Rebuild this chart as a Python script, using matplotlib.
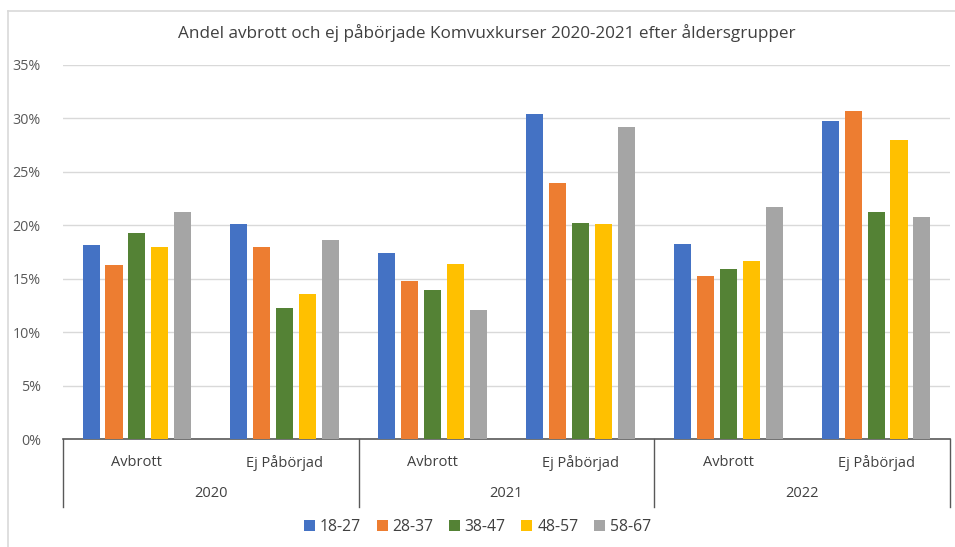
import matplotlib
matplotlib.use("Agg")
import matplotlib.pyplot as plt
from matplotlib.lines import Line2D
from matplotlib.ticker import FuncFormatter

plt.rcParams['font.family'] = ['Open Sans', 'DejaVu Sans']

years = ["2020", "2021", "2022"]
categories = ["Avbrott", "Ej Påbörjad", "Avbrott", "Ej Påbörjad", "Avbrott", "Ej Påbörjad"]
series_names = ["18-27", "28-37", "38-47", "48-57", "58-67"]
values = {
    "18-27": [18.2, 20.1, 17.4, 30.4, 18.3, 29.8],
    "28-37": [16.3, 18.0, 14.8, 24.0, 15.3, 30.7],
    "38-47": [19.3, 12.3, 14.0, 20.2, 15.9, 21.3],
    "48-57": [18.0, 13.6, 16.4, 20.1, 16.7, 28.0],
    "58-67": [21.3, 18.6, 12.1, 29.2, 21.7, 20.8],
}
colors = ["#4472C4", "#ED7D31", "#548235", "#FFC000", "#A5A5A5"]
yticks = [0, 5, 10, 15, 20, 25, 30, 35]

fig = plt.figure(figsize=(9.55, 5.47), dpi=100)
ax = fig.add_axes([63/955, 1-439.3/547, (950-63)/955, (439.3-65)/547])

step = 0.155
width = 0.116
x = list(range(len(categories)))
for i, name in enumerate(series_names):
    xs = [xi + (i-2)*step for xi in x]
    ax.bar(xs, values[name], width=width, color=colors[i], label=name, zorder=3)

ax.set_xlim(-0.5, len(categories)-0.5)
ax.set_ylim(0, 35)
ax.set_yticks(yticks)
ax.yaxis.set_major_formatter(FuncFormatter(lambda v, p: f"{int(v)}%"))
ax.tick_params(axis='y', length=0, labelsize=10.3, labelcolor="#595959", pad=16)
ax.set_xticks([])
ax.grid(axis='y', color="#D9D9D9", linewidth=1, zorder=0)
for s in ["top", "right", "left"]:
    ax.spines[s].set_visible(False)
ax.spines["bottom"].set_color("#595959")
ax.spines["bottom"].set_linewidth(1.2)

trans = ax.get_xaxis_transform()
lc = "#595959"
for k, c in enumerate(categories):
    ax.text(k, -0.062, c, transform=trans, ha='center', va='center', fontsize=10.5, color="#404040")
for j, yr in enumerate(years):
    ax.text(2*j+0.5, -0.145, yr, transform=trans, ha='center', va='center', fontsize=10.5, color="#404040")
for b in [-0.5, 1.5, 3.5, 5.5]:
    ax.plot([b, b], [0, -0.18], transform=trans, color=lc, linewidth=1, clip_on=False)

fig.text(0.51, 0.94, "Andel avbrott och ej påbörjade Komvuxkurser 2020-2021 efter åldersgrupper",
         ha='center', va='center', fontsize=12.3, color="#404040")

leg = fig.legend(loc='center', bbox_to_anchor=(0.500, 0.037), ncol=5, frameon=False,
                 fontsize=11.3, handlelength=0.7, handleheight=0.7, handletextpad=0.3, columnspacing=1.0)
for t in leg.get_texts():
    t.set_color("#404040")

border = "#D9D9D9"
fig.add_artist(Line2D([8/955, 1.0], [1-11/547, 1-11/547], transform=fig.transFigure, color=border, linewidth=1.2))
fig.add_artist(Line2D([8/955, 8/955], [0.0, 1-11/547], transform=fig.transFigure, color=border, linewidth=1.2))

fig.savefig("out.png", dpi=100)
